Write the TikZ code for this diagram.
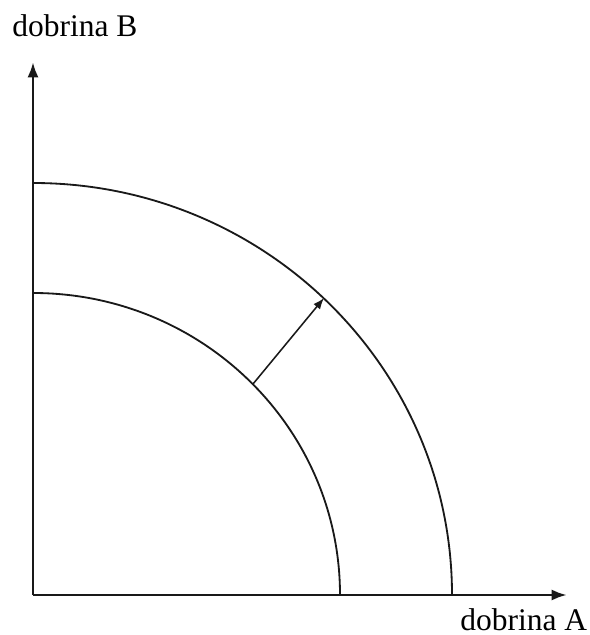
\documentclass[tikz,border=0pt]{standalone}
\usepackage{fontspec}
\setmainfont{Liberation Serif}
\usepackage{tikz}
\usetikzlibrary{arrows.meta, positioning, calc}
\definecolor{curveink}{RGB}{25, 25, 25}

\begin{document}
\begin{tikzpicture}[x=0.25mm, y=0.25mm, >=Latex,
    axisline/.style={line width=2.1pt, color=curveink, -{Latex[length=11pt, width=8pt]}},
    frontier/.style={line width=1.3pt, color=curveink},
    shiftarrow/.style={line width=1.1pt, color=curveink, -{Latex[length=8pt, width=6pt]}},
    axislabel/.style={font=\fontsize{22.4}{27}\selectfont, inner sep=0pt}]
    \useasboundingbox (-33, -40) rectangle (557, 595);

    \coordinate (Origin) at (0, 0);
    \coordinate (YEnd) at (0, 533);
    \coordinate (XEnd) at (534, 0);

    \draw[axisline] (Origin) -- (YEnd);
    \draw[axisline] (Origin) -- (XEnd);

    \coordinate (InnerTop) at (0, 302);
    \coordinate (OuterTop) at (0, 412);
    \draw[frontier] (InnerTop) arc[start angle=90, end angle=0, x radius=76.75mm, y radius=75.5mm];
    \draw[frontier] (OuterTop) arc[start angle=90, end angle=0, x radius=104.75mm, y radius=103mm];

    \coordinate (ShiftFrom) at (220, 211);
    \coordinate (ShiftTo) at (291, 297);
    \draw[shiftarrow] (ShiftFrom) -- (ShiftTo);

    \node[axislabel, anchor=base west] (LabelB) at (-21, 558) {dobrina B};
    \node[axislabel, anchor=base west] (LabelA) at (427, -35) {dobrina A};
\end{tikzpicture}
\end{document}
